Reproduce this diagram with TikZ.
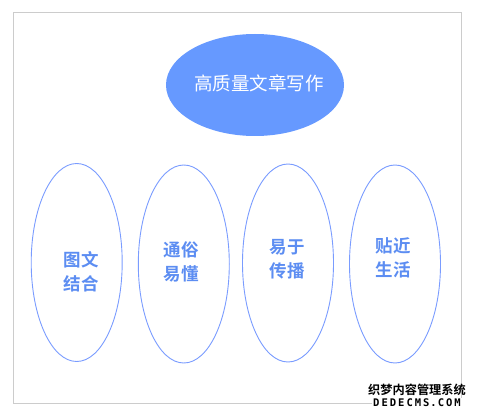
\documentclass[tikz,border=0pt]{standalone}
\usepackage{fontspec}
\newfontfamily\cjk{Noto Sans CJK SC}
\newfontfamily\cjkb{Noto Sans CJK SC Bold}
\newfontfamily\wmfont{DejaVu Sans Mono}
\definecolor{topfill}{HTML}{6699FF}
\definecolor{ringblue}{HTML}{7A9CFF}
\definecolor{txtblue}{HTML}{5C8DF2}
\definecolor{framegray}{HTML}{CCCCCC}
\tikzset{
  x=1pt, y=-1pt,
  frame/.style={draw=framegray, line width=0.8pt},
  topell/.style={ellipse, fill=topfill, minimum width=178pt, minimum height=102pt, inner sep=0pt},
  ring/.style={ellipse, draw=ringblue, line width=0.9pt, minimum width=91pt, minimum height=198pt, inner sep=0pt},
  toptext/.style={text=white, font=\cjk\fontsize{18.5}{22}\selectfont},
  ringtext/.style={text=txtblue, align=center, font=\cjkb\fontsize{17.5}{24}\selectfont},
  wm/.style={text=black, inner sep=0pt, font=\cjkb\fontsize{12.2}{13}\selectfont}
}
\usetikzlibrary{shapes.geometric}
\begin{document}
\begin{tikzpicture}
\useasboundingbox[fill=white] (0,0) rectangle (477,417);
\draw[frame] (13,12) rectangle (461,403);
\node[topell] (top) at (255,85) {};
\node[toptext] (toplabel) at (259,83) {高质量文章写作};
\node[ring] (e1) at (76.7,262.5) {};
\node[ring] (e2) at (183.8,264) {};
\node[ring] (e3) at (288,263) {};
\node[ring] (e4) at (395,264) {};
\node[ringtext] (t1) at (81,272) {图文\\结合};
\node[ringtext] (t2) at (181,262) {通俗\\易懂};
\node[ringtext] (t3) at (287,259) {易于\\传播};
\node[ringtext] (t4) at (393,258) {贴近\\生活};
\node[wm] (wm1) at (417,390) {织梦内容管理系统};
\node[wm, fill=white, inner sep=1pt, font=\wmfont\bfseries\fontsize{10.5}{12}\selectfont] (wm2) at (417,403) {D\kern2pt E\kern2pt D\kern2pt E\kern2pt C\kern2pt M\kern2pt S\kern1pt.\kern1pt C\kern2pt O\kern2pt M};
\end{tikzpicture}
\end{document}
